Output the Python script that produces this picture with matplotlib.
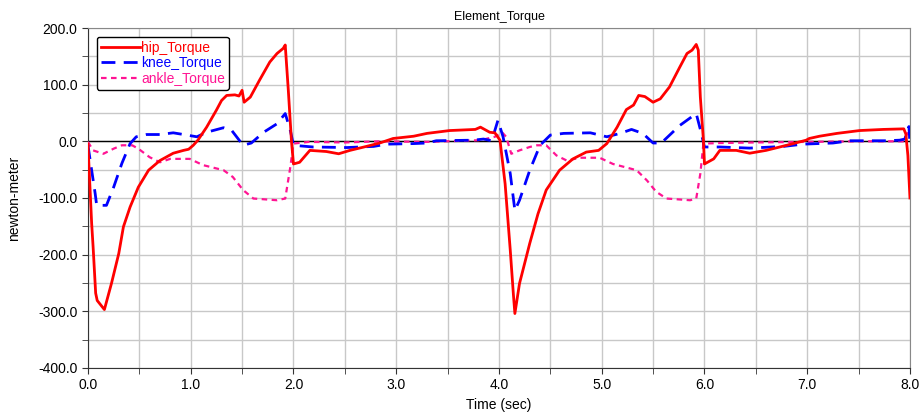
import matplotlib
matplotlib.use('Agg')
import matplotlib.pyplot as plt
from matplotlib.ticker import MultipleLocator, FormatStrFormatter

plt.rc('font', family=['Liberation Sans', 'DejaVu Sans'], size=10)

# hip torque (time, value)
hip_t = [0.0, 0.036, 0.05, 0.075, 0.09, 0.16, 0.23, 0.30, 0.345, 0.41, 0.49, 0.59, 0.70, 0.83,
         0.93, 0.98, 1.025, 1.07, 1.155, 1.25, 1.30, 1.35, 1.43, 1.47, 1.50, 1.52, 1.58, 1.67,
         1.77, 1.84, 1.90, 1.92, 1.95, 1.98, 2.0, 2.06, 2.16, 2.32, 2.44, 2.55, 2.71, 2.84,
         2.97, 3.17, 3.30, 3.52, 3.77, 3.82, 3.91, 3.96, 4.01, 4.06, 4.11, 4.14, 4.155, 4.20,
         4.30, 4.38, 4.46, 4.59, 4.72, 4.85, 4.97, 5.05, 5.15, 5.24, 5.31, 5.36, 5.42, 5.50,
         5.57, 5.66, 5.76, 5.83, 5.88, 5.92, 5.94, 5.96, 5.99, 6.0, 6.09, 6.15, 6.31, 6.44,
         6.60, 6.80, 6.99, 7.02, 7.12, 7.29, 7.51, 7.74, 7.94, 7.96, 7.98, 8.0]
hip_v = [-5, -145, -186, -268, -281, -297, -250, -198, -151, -116, -81, -51, -34, -21,
         -16, -14, -7, 2, 25, 55, 72, 81, 82, 80, 90, 69, 78, 108,
         140, 155, 164, 170, 90, 2, -40, -37, -16, -18, -22, -16, -9, -3,
         5, 9, 14, 19, 21, 25, 16, 15, 2, -75, -192, -269, -304, -251,
         -180, -128, -86, -51, -31, -19, -16, -4, 25, 56, 64, 81, 79, 69,
         75, 96, 131, 155, 161, 171, 161, 78, 2, -40, -31, -16, -16, -21,
         -16, -7, 2, 5, 9, 14, 19, 21, 22, 13, -25, -100]

# knee torque
knee_t = [0.0, 0.036, 0.07, 0.085, 0.18, 0.25, 0.33, 0.41, 0.47, 0.57, 0.70, 0.83, 0.93,
          1.06, 1.155, 1.32, 1.40, 1.51, 1.59, 1.71, 1.84, 1.92, 1.97, 2.0, 2.06, 2.19,
          2.52, 2.78, 2.91, 3.17, 3.30, 3.39, 3.75, 3.85, 3.93, 3.99, 4.04, 4.11, 4.155,
          4.20, 4.30, 4.40, 4.50, 4.63, 4.89, 5.05, 5.18, 5.29, 5.40, 5.50, 5.58, 5.76,
          5.92, 5.97, 6.0, 6.15, 6.44, 6.77, 6.96, 7.25, 7.42, 7.77, 7.90, 7.95, 7.99, 8.0]
knee_v = [-7, -51, -92, -113, -113, -81, -39, -4, 8, 12, 12, 15, 12,
          8, 16, 24, 19, -7, -3, 16, 31, 49, 19, -7, -8, -10,
          -11, -9, -5, -4, -3, 1, 2, 4, 1, 37, 8, -57, -122,
          -104, -51, -7, 11, 14, 15, 8, 14, 21, 14, -3, -3, 28,
          49, 14, -10, -10, -12, -9, -5, -3, 1, 1, 2, 4, 26, -4]

# ankle torque
ankle_t = [0.0, 0.05, 0.15, 0.25, 0.33, 0.43, 0.49, 0.60, 0.70, 0.80, 0.99, 1.12, 1.32,
           1.41, 1.51, 1.61, 1.84, 1.92, 1.97, 2.0, 2.15, 2.5, 2.84, 3.3, 3.82, 3.96,
           4.03, 4.07, 4.12, 4.20, 4.30, 4.37, 4.46, 4.56, 4.66, 4.79, 4.98, 5.11, 5.34,
           5.44, 5.53, 5.63, 5.86, 5.92, 5.96, 5.99, 6.15, 6.5, 7.0, 7.5, 7.94, 7.98, 8.0]
ankle_v = [-1, -16, -22, -13, -7, -7, -13, -28, -37, -31, -31, -42, -51,
           -63, -86, -101, -104, -101, -45, -4, -1, -2, 0, -1, 2, 8,
           16, 8, -22, -16, -10, -7, -7, -25, -34, -29, -29, -40, -51,
           -69, -89, -101, -104, -101, -57, -4, -3, -2, -1, 0, 0, 16, 7]

fig = plt.figure(figsize=(9.21, 4.12), dpi=100)
ax = fig.add_axes([0.0955, 0.107, 0.8925, 0.825])

ax.plot(hip_t, hip_v, color='#ff0000', lw=2, label='hip_Torque', zorder=5)
ax.plot(knee_t, knee_v, color='#0000ff', lw=2, dashes=(5, 3), label='knee_Torque', zorder=4)
ax.plot(ankle_t, ankle_v, color='#ff1493', lw=1.6, dashes=(2.5, 2), label='ankle_Torque', zorder=3)
ax.axhline(0, color='black', lw=1, zorder=2)

ax.set_xlim(0, 8)
ax.set_ylim(-400, 200)
ax.xaxis.set_major_locator(MultipleLocator(1))
ax.xaxis.set_minor_locator(MultipleLocator(0.5))
ax.yaxis.set_major_locator(MultipleLocator(100))
ax.yaxis.set_minor_locator(MultipleLocator(50))
ax.xaxis.set_major_formatter(FormatStrFormatter('%.1f'))
ax.yaxis.set_major_formatter(FormatStrFormatter('%.1f'))
ax.grid(which='both', color='#c8c8c8', lw=1, zorder=0)
ax.set_axisbelow(True)
ax.tick_params(which='both', direction='out', length=4, color='#333333', labelsize=10)
for s in ['left', 'bottom']:
    ax.spines[s].set_color('#333333')
for s in ['top', 'right']:
    ax.spines[s].set_color('#888888')

ax.set_title('Element_Torque', fontsize=9, pad=6)
ax.set_xlabel('Time (sec)', fontsize=10)
ax.set_ylabel('newton-meter', fontsize=10, labelpad=12)

leg = ax.legend(loc='upper left', bbox_to_anchor=(0.002, 0.995), fontsize=10, handlelength=2.8,
                handletextpad=0.1, borderpad=0.3, labelspacing=0.1, fancybox=True, framealpha=1,
                labelcolor='linecolor')
leg.get_frame().set_edgecolor('black')
leg.get_frame().set_linewidth(1)

fig.savefig('out.png', dpi=100)
